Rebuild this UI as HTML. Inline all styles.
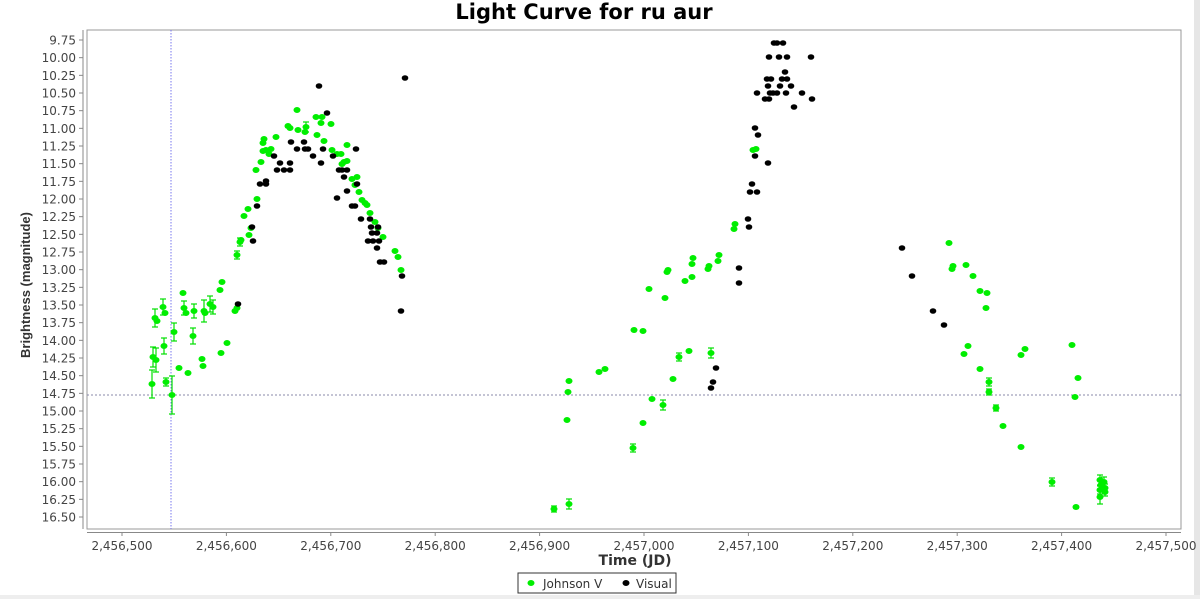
<!DOCTYPE html>
<html><head><meta charset="utf-8"><style>
html,body{margin:0;padding:0;background:#fff;}
svg{display:block;font-family:"DejaVu Sans","Liberation Sans",sans-serif;}
</style></head><body>
<svg width="1200" height="599" viewBox="0 0 1200 599" xmlns="http://www.w3.org/2000/svg">
<rect x="0" y="0" width="1200" height="599" fill="#fff"/>
<rect x="1194" y="0" width="6" height="599" fill="#e6e6e6"/>
<rect x="0" y="595" width="1200" height="4" fill="#eeeeee"/>
<text x="584" y="19" text-anchor="middle" font-size="21" font-weight="bold" fill="#000">Light Curve for ru aur</text>
<rect x="87" y="30" width="1094" height="499" fill="#fff" stroke="#999" stroke-width="1"/>
<line x1="83" y1="30" x2="83" y2="529" stroke="#888"/>
<line x1="87" y1="532.5" x2="1181" y2="532.5" stroke="#888"/>
<g font-size="12" fill="#444" text-anchor="end" id="yl"></g>
<g font-size="12" fill="#444" text-anchor="middle" id="xl"></g>
<line x1="171" y1="30" x2="171" y2="529" stroke="#7777ee" stroke-dasharray="1.5,1.5"/>
<line x1="87" y1="395" x2="1181" y2="395" stroke="#8888aa" stroke-dasharray="2,2"/>
<g id="err" stroke="#00e000" stroke-width="1.2" fill="none"></g>
<g id="gp" fill="#00ee00"></g>
<g id="bp" fill="#000"></g>
<text x="635" y="565" text-anchor="middle" font-size="14" font-weight="bold" fill="#333">Time (JD)</text>
<text transform="translate(30,285) rotate(-90)" text-anchor="middle" font-size="13" font-weight="bold" fill="#333" font-family="Liberation Sans, sans-serif">Brightness (magnitude)</text>
<rect x="518" y="573" width="158" height="20" fill="#fff" stroke="#333"/>
<ellipse cx="531" cy="583" rx="3.5" ry="3" fill="#00ee00"/>
<text x="543" y="588" font-size="12" fill="#333">Johnson V</text>
<ellipse cx="626" cy="583" rx="3.5" ry="3" fill="#000"/>
<text x="636" y="588" font-size="12" fill="#333">Visual</text>
</svg>
<script>
var NS="http://www.w3.org/2000/svg";
function el(p,t,a,txt){var e=document.createElementNS(NS,t);for(var k in a)e.setAttribute(k,a[k]);if(txt)e.textContent=txt;document.getElementById(p).appendChild(e);}
for(var i=0;i<28;i++){var m=9.75+i*0.25;var y=40+i*17.667;el("yl","text",{x:76,y:y+4.5},m.toFixed(2));el("yl","line",{x1:79,y1:y,x2:83,y2:y,stroke:"#888"});}
for(var j=0;j<11;j++){var x=122+j*104.4;var s=(2456500+j*100).toString();s=s[0]+","+s.slice(1,4)+","+s.slice(4);el("xl","text",{x:x,y:550},s);el("xl","line",{x1:x,y1:532,x2:x,y2:536,stroke:"#888"});}
var g=[[152,384,14],[153,357,10],[156,360,12],[155,318,9],[157,321],[164,346,8],[163,307,8],[165,313],[166,382,4],[172,395,19],[174,332,9],[179,368],[183,293],[184,308,7],[186,313],[188,373],[193,336,8],[194,311,7],[202,359],[203,366],[204,311,11],[205,313],[210,304,8],[213,307,7],[220,290],[222,282],[221,353],[227,343],[235,311],[237,308],[237,255,4],[240,242,4],[241,240],[249,235],[251,228],[244,216],[248,209],[257,199],[256,170],[261,162],[263,151],[263,143],[264,139],[266,150],[269,154],[271,149],[276,137],[288,126],[290,128],[297,110],[298,130],[305,132],[306,127,5],[316,117],[317,135],[321,123],[322,117],[324,141],[331,124],[332,150],[337,154],[341,154],[342,164],[344,162],[347,161],[347,145],[352,179],[355,185],[357,177],[359,192],[362,200],[365,203],[367,205],[370,213],[375,222],[378,228],[383,237],[395,251],[398,257],[401,270],
[753,150],[756,149],[735,224],[734,229],[719,255],[718,261],[709,266],[708,269],[693,258],[692,264],[692,277],[685,281],[668,270],[667,272],[649,289],[665,298],[634,330],[643,331],[689,351],[679,357,4],[711,353,5],[599,372],[605,369],[569,381],[568,392],[673,379],[652,399],[663,405,5],[567,420],[643,423],[633,448,4],[554,509,3],[569,504,5],
[949,243],[952,269],[953,266],[966,265],[973,276],[980,291],[987,293],[986,308],[968,346],[964,354],[980,369],[989,382,4],[989,392,3],[996,408,3],[1003,426],[1021,447],[1025,349],[1021,355],[1072,345],[1078,378],[1075,397],[1052,482,4],[1076,507],[1100,480,5],[1101,485,4],[1100,490,4],[1104,482,5],[1105,488,4],[1105,492,4],[1100,497,7],[1102,486]];
var b=[[238,304],[252,227],[253,241],[257,206],[260,184],[266,181],[266,184],[274,156],[277,170],[280,163],[284,170],[290,163],[290,170],[291,142],[297,149],[304,142],[305,149],[308,149],[313,156],[321,163],[323,149],[327,113],[333,156],[339,170],[337,198],[342,170],[347,170],[344,177],[347,191],[352,206],[355,206],[356,149],[357,184],[361,219],[370,219],[371,227],[368,241],[372,233],[373,241],[377,233],[377,248],[379,241],[378,227],[380,262],[384,262],[402,276],[401,311],[319,86],[405,78],
[777,43],[774,43],[783,43],[769,57],[779,57],[787,57],[811,57],[785,72],[767,79],[771,79],[782,79],[787,79],[768,86],[780,86],[791,86],[757,93],[770,93],[773,93],[777,93],[786,93],[802,93],[765,99],[769,99],[812,99],[794,107],[755,128],[758,135],[755,156],[768,163],[752,184],[750,192],[757,192],[748,219],[749,227],[739,268],[739,283],[716,368],[713,382],[711,388],
[902,248],[912,276],[933,311],[944,325]];
g.forEach(function(p){if(p[2]){el("err","line",{x1:p[0],y1:p[1]-p[2],x2:p[0],y2:p[1]+p[2]});el("err","line",{x1:p[0]-3,y1:p[1]-p[2],x2:p[0]+3,y2:p[1]-p[2]});el("err","line",{x1:p[0]-3,y1:p[1]+p[2],x2:p[0]+3,y2:p[1]+p[2]});}el("gp","ellipse",{cx:p[0],cy:p[1],rx:3.5,ry:3});});
b.forEach(function(p){el("bp","ellipse",{cx:p[0],cy:p[1],rx:3.3,ry:2.8});});
</script>
</body></html>
